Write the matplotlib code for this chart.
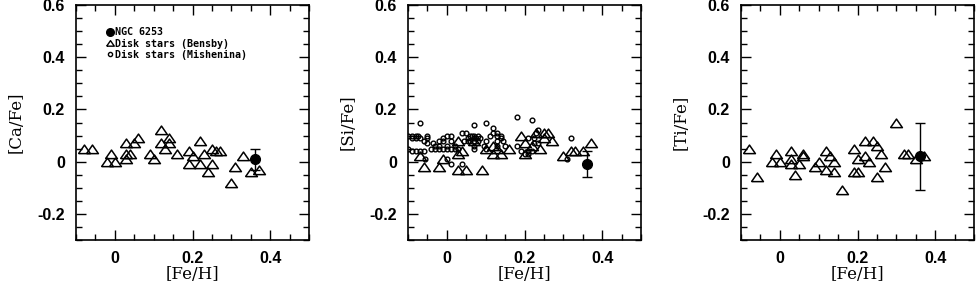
import matplotlib
matplotlib.use('Agg')
import matplotlib.pyplot as plt
from matplotlib.ticker import MultipleLocator, FuncFormatter
from matplotlib.lines import Line2D

# NGC 6253 mean values
ngc_feh = 0.36
ngc_ca, ngc_ca_err = 0.01, 0.04
ngc_si, ngc_si_err = -0.01, 0.05
ngc_ti, ngc_ti_err = 0.02, 0.13

# Bensby disk stars, [Ca/Fe]
ca_feh = [-0.08, -0.06, -0.02, -0.01, 0.00, 0.03, 0.03, 0.03, 0.04, 0.05, 0.06, 0.09,
          0.10, 0.12, 0.12, 0.13, 0.14, 0.14, 0.16, 0.19, 0.19, 0.20, 0.22, 0.22, 0.23,
          0.24, 0.25, 0.25, 0.26, 0.27, 0.30, 0.31, 0.33, 0.35, 0.37]
ca_fe = [0.05, 0.05, 0.00, 0.03, 0.00, 0.07, 0.03, 0.01, 0.03, 0.07, 0.09, 0.03,
         0.01, 0.12, 0.07, 0.05, 0.09, 0.07, 0.03, 0.04, -0.01, 0.02, 0.08, -0.01, 0.03,
         -0.04, 0.05, -0.01, 0.04, 0.04, -0.08, -0.02, 0.02, -0.04, -0.03]

# Bensby disk stars, [Si/Fe]
si_feh = [-0.07, -0.06, -0.02, -0.01, 0.03, 0.03, 0.04, 0.03, 0.05, 0.09, 0.10, 0.12,
          0.12, 0.14, 0.16, 0.19, 0.20, 0.20, 0.22, 0.24, 0.25, 0.26, 0.27, 0.30, 0.32,
          0.33, 0.35, 0.37, 0.07, 0.13, 0.23, 0.25]
si_fe = [0.02, -0.02, -0.02, 0.01, 0.08, 0.03, 0.04, -0.03, -0.03, -0.03, 0.05, 0.03,
         0.06, 0.03, 0.05, 0.10, 0.07, 0.03, 0.06, 0.05, 0.11, 0.11, 0.08, 0.02, 0.04,
         0.04, 0.04, 0.07, 0.08, 0.05, 0.11, 0.09]

# Mishenina disk stars, [Si/Fe]
mi_feh = [-0.07, -0.09, -0.08, -0.075, -0.09, -0.08, -0.07, -0.05, -0.06, -0.05, -0.05,
          -0.09, -0.08, -0.07, -0.06, -0.055,
          -0.04, -0.03, -0.02, -0.01, 0.00, 0.01, 0.02, 0.03,
          -0.03, -0.02, 0.00, 0.02, -0.02, -0.01, 0.01, -0.01, 0.00, 0.01,
          0.00, 0.01, 0.04, 0.04, 0.05, 0.07, 0.10, 0.12, 0.12, 0.13,
          0.06, 0.07, 0.08, 0.11, 0.13, 0.14, 0.055, 0.07, 0.075, 0.085, 0.14,
          0.055, 0.06, 0.07, 0.08, 0.10, 0.13, 0.145, 0.07, 0.095, 0.13, 0.15,
          0.07, 0.10, 0.18, 0.22, 0.23, 0.235, 0.21, 0.225, 0.225, 0.235,
          0.19, 0.21, 0.22, 0.20, 0.21, 0.18, 0.32, 0.31,
          -0.1, -0.1, -0.035, 0.045, 0.065]
mi_fe = [0.15, 0.10, 0.10, 0.10, 0.09, 0.09, 0.09, 0.10, 0.08, 0.09, 0.07,
         0.04, 0.04, 0.04, 0.04, 0.01,
         0.05, 0.05, 0.05, 0.05, 0.05, 0.05, 0.05, 0.05,
         0.06, 0.06, 0.06, 0.06, 0.08, 0.08, 0.08, 0.09, 0.10, 0.10,
         0.01, -0.01, -0.01, 0.11, 0.11, 0.14, 0.15, 0.13, 0.11, 0.11,
         0.10, 0.10, 0.10, 0.10, 0.10, 0.10, 0.09, 0.09, 0.09, 0.09, 0.09,
         0.08, 0.08, 0.08, 0.08, 0.08, 0.08, 0.08, 0.06, 0.06, 0.06, 0.06,
         0.05, 0.05, 0.17, 0.16, 0.11, 0.12, 0.09, 0.09, 0.07, 0.07,
         0.04, 0.04, 0.04, 0.03, 0.03, 0.06, 0.09, 0.01,
         0.10, 0.05, 0.07, 0.08, 0.10]

# Bensby disk stars, [Ti/Fe]
ti_feh = [-0.08, -0.06, -0.02, -0.01, 0.00, 0.03, 0.03, 0.03, 0.04, 0.05, 0.06, 0.06,
          0.09, 0.10, 0.12, 0.12, 0.13, 0.14, 0.14, 0.16, 0.19, 0.19, 0.20, 0.20, 0.22,
          0.22, 0.23, 0.24, 0.25, 0.25, 0.26, 0.27, 0.30, 0.32, 0.33, 0.35, 0.37]
ti_fe = [0.05, -0.06, 0.00, 0.03, 0.00, 0.04, 0.01, -0.01, -0.05, -0.01, 0.03, 0.02,
         -0.02, 0.00, 0.04, -0.03, 0.02, 0.00, -0.04, -0.11, 0.05, -0.04, 0.01, -0.04, 0.08,
         0.02, 0.00, 0.08, 0.06, -0.06, 0.03, -0.02, 0.15, 0.03, 0.03, 0.01, 0.02]

tri = [(-1, -0.7), (1, -0.7), (0, 0.75), (-1, -0.7)]

panels = [
    ('[Ca/Fe]', ca_feh, ca_fe, None, None, ngc_ca, ngc_ca_err),
    ('[Si/Fe]', si_feh, si_fe, mi_feh, mi_fe, ngc_si, ngc_si_err),
    ('[Ti/Fe]', ti_feh, ti_fe, None, None, ngc_ti, ngc_ti_err),
]

fig = plt.figure(figsize=(9.76, 2.86), dpi=100)
lefts = [76, 408, 741]


def fmt(v, pos):
    if abs(v) < 1e-9:
        return '0'
    return '%.1f' % v


for left, (ylab, bx, by, mx, my, ny, nerr) in zip(lefts, panels):
    ax = fig.add_axes([left / 976, 46 / 286, 233 / 976, 235 / 286])
    if mx is not None:
        ax.plot(mx, my, 'o', ms=3.4, mfc='none', mec='black', mew=1.0, ls='none')
    ax.plot(bx, by, marker=tri, ms=8.5, mfc='none', mec='black', mew=1.1, ls='none')
    ax.errorbar([ngc_feh], [ny], yerr=[nerr], fmt='o', ms=7, color='black',
                ecolor='black', elinewidth=1.0, capsize=3.5, capthick=1.0)
    ax.set_xlim(-0.1, 0.5)
    ax.set_ylim(-0.3, 0.6)
    ax.xaxis.set_major_locator(MultipleLocator(0.2))
    ax.xaxis.set_minor_locator(MultipleLocator(0.05))
    ax.yaxis.set_major_locator(MultipleLocator(0.2))
    ax.yaxis.set_minor_locator(MultipleLocator(0.05))
    ax.xaxis.set_major_formatter(FuncFormatter(fmt))
    ax.yaxis.set_major_formatter(FuncFormatter(fmt))
    ax.tick_params(which='both', direction='in', top=True, right=True, width=1.0)
    ax.tick_params(which='major', length=7, pad=8)
    ax.tick_params(which='minor', length=4)
    for lab in ax.get_xticklabels() + ax.get_yticklabels():
        lab.set_fontfamily('Liberation Sans')
        lab.set_fontweight('bold')
        lab.set_fontsize(11.5)
    for sp in ax.spines.values():
        sp.set_linewidth(1.2)
    ax.set_xlabel('[Fe/H]', family='DejaVu Serif', fontsize=12, labelpad=0)
    ax.set_ylabel(ylab, family='DejaVu Serif', fontsize=12, labelpad=9)

    if left == lefts[0]:
        handles = [
            Line2D([], [], marker='o', ms=5.5, color='black', ls='none'),
            Line2D([], [], marker=tri, ms=5.5, mfc='none', mec='black', mew=1.0, ls='none'),
            Line2D([], [], marker='o', ms=3, mfc='none', mec='black', mew=1.0, ls='none'),
        ]
        ax.legend(handles, ['NGC 6253', 'Disk stars (Bensby)', 'Disk stars (Mishenina)'],
                  loc='upper left', bbox_to_anchor=(0.135, 0.905), frameon=False,
                  handlelength=0.6, handletextpad=0.15, labelspacing=0.12,
                  borderaxespad=0, borderpad=0,
                  prop={'family': 'DejaVu Sans Mono', 'weight': 'bold', 'size': 7.2})

fig.savefig('out.png', dpi=100)
